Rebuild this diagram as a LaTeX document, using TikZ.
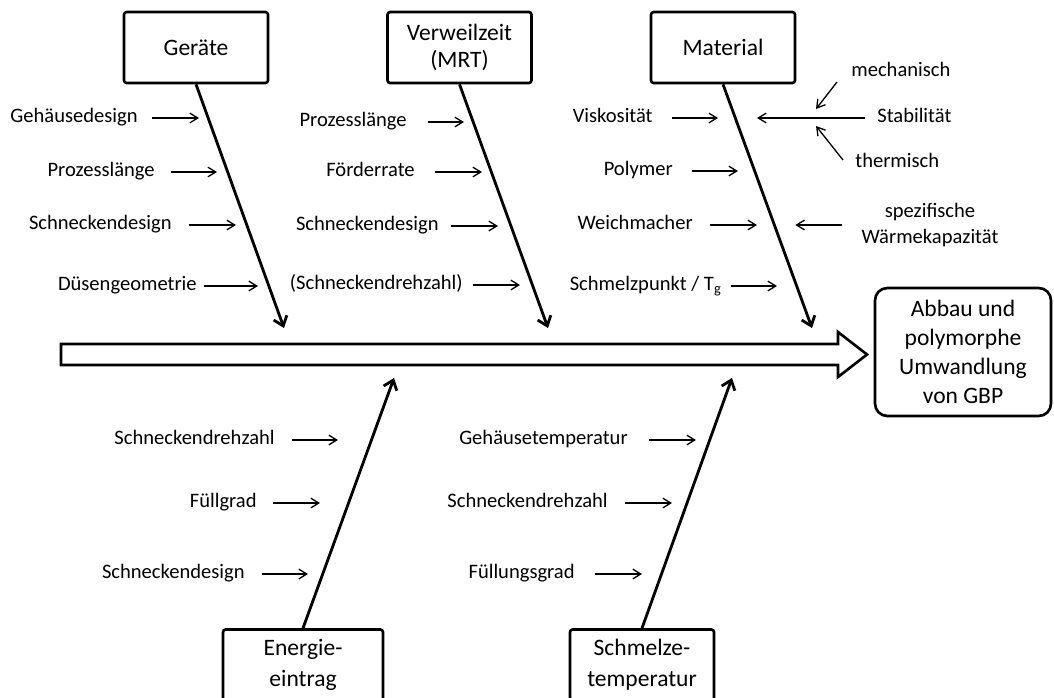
\documentclass[tikz,border=0pt]{standalone}
\usepackage{fontspec}
\setmainfont{Carlito}
\usetikzlibrary{arrows.meta}

\begin{document}
\begin{tikzpicture}[
        x=0.02cm, y=-0.02cm,
        box/.style={draw, line width=1.5pt, rounded corners=1.5pt, minimum width=2.88cm, minimum height=1.42cm, align=center, font=\fontsize{13.4}{15.5}\selectfont},
        effect/.style={box, rounded corners=7pt, minimum width=3.52cm, minimum height=2.56cm, font=\fontsize{13.4}{16.4}\selectfont},
        note/.style={inner sep=0pt, align=center, font=\fontsize{11.7}{14.7}\selectfont},
        lbl/.style={inner sep=0pt, text height=0.7em, text depth=0.2em, font=\fontsize{11.7}{14.7}\selectfont},
        bone/.style={line width=1.6pt, -{Straight Barb[length=5pt, width=8pt]}},
        cause/.style={line width=0.75pt, -{Straight Barb[length=4.5pt, width=5.5pt]}}
    ]

    \clip (0,0) rectangle (1054,697);

    % Categories
    \node[box] (geraete) at (196,47.5) {Geräte};
    \node[box] (mrt) at (459.5,47.5) {Verweilzeit\\(MRT)};
    \node[box] (material) at (723,47.5) {Material};
    \node[box, minimum width=3.2cm, font=\fontsize{13.4}{17.5}\selectfont] (energie) at (303,665) {Energie-\\eintrag};
    \node[box, font=\fontsize{13.4}{17.5}\selectfont] (schmelze) at (642,665) {Schmelze-\\temperatur};

    % Effect
    \node[effect] (gbp) at (963,352) {Abbau und\\polymorphe\\Umwandlung\\von GBP};

    % Spine
    \coordinate (tail) at (61,354.5);
    \draw[line width=1.5pt] (tail) ++(0,-10.5) -- ++(777,0) -- ++(0,-12) -- ++(29,22.5)
        -- ++(-29,22.5) -- ++(0,-12) -- ++(-777,0) -- cycle;

    % Bones
    \coordinate (gtip) at (284,328);
    \coordinate (mtip) at (548,328);
    \coordinate (ttip) at (812,328);
    \coordinate (etip) at (394,378);
    \coordinate (stip) at (732,378);
    \draw[bone] (geraete.south) -- (gtip);
    \draw[bone] (mrt.south) -- (mtip);
    \draw[bone] (material.south) -- (ttip);
    \draw[bone] (energie.north) -- (etip);
    \draw[bone] (schmelze.north) -- (stip);

    % Geraete
    \node[lbl, anchor=east] (g1) at (138,118) {Gehäusedesign};
    \node[lbl, anchor=east] (g2) at (155,172) {Prozesslänge};
    \node[lbl, anchor=east] (g3) at (172,225) {Schneckendesign};
    \node[lbl, anchor=east] (g4) at (197,286) {Düsengeometrie};
    \draw[cause] (g1.east) ++(14,0) -- ++(47,0);
    \draw[cause] (g2.east) ++(16,0) -- ++(46,0);
    \draw[cause] (g3.east) ++(17,0) -- ++(47,0);
    \draw[cause] (g4.east) ++(7,0) -- ++(54,0);

    % Verweilzeit
    \node[lbl, anchor=east] (m1) at (407,122) {Prozesslänge};
    \node[lbl, anchor=east] (m2) at (415,172) {Förderrate};
    \node[lbl, anchor=east] (m3) at (439,226) {Schneckendesign};
    \node[lbl, anchor=east] (m4) at (463,285) {(Schneckendrehzahl)};
    \draw[cause] (m1.east) ++(21,0) -- ++(36,0);
    \draw[cause] (m2.east) ++(20,0) -- ++(47,0);
    \draw[cause] (m3.east) ++(12,0) -- ++(47,0);
    \draw[cause] (m4.east) ++(10,0) -- ++(47,0);

    % Material
    \node[lbl, anchor=east] (t1) at (653,118) {Viskosität};
    \node[lbl, anchor=east] (t2) at (673,171) {Polymer};
    \node[lbl, anchor=east] (t3) at (693,225) {Weichmacher};
    \node[lbl, anchor=east] (t4) at (722,286) {Schmelzpunkt / T\textsubscript{g}};
    \draw[cause] (t1.east) ++(19,0) -- ++(46,0);
    \draw[cause] (t2.east) ++(19,0) -- ++(46,0);
    \draw[cause] (t3.east) ++(17,0) -- ++(47,0);
    \draw[cause] (t4.east) ++(9,0) -- ++(46,0);

    \node[lbl, anchor=west] (stab) at (877,118) {Stabilität};
    \node[lbl, anchor=west] (mech) at (851,72) {mechanisch};
    \node[lbl, anchor=west] (therm) at (855,163) {thermisch};
    \node[note] (spez) at (930,225) {spezifische\\Wärmekapazität};
    \draw[cause] (stab.west) ++(-12,0) -- ++(-108,0);
    \draw[cause] (mech.west) ++(-14,10) -- ++(-21,27);
    \draw[cause] (therm.west) ++(-12,-3) -- ++(-27,-34);
    \draw[cause] (spez.west) ++(-19,0) -- ++(-47,0);

    % Energieeintrag
    \node[lbl, anchor=east] (e1) at (275,440) {Schneckendrehzahl};
    \node[lbl, anchor=east] (e2) at (257,503) {Füllgrad};
    \node[lbl, anchor=east] (e3) at (245,574) {Schneckendesign};
    \draw[cause] (e1.east) ++(17,0) -- ++(46,0);
    \draw[cause] (e2.east) ++(16,0) -- ++(47,0);
    \draw[cause] (e3.east) ++(17,0) -- ++(46,0);

    % Schmelzetemperatur
    \node[lbl, anchor=east] (s1) at (628,440) {Gehäusetemperatur};
    \node[lbl, anchor=east] (s2) at (608,503) {Schneckendrehzahl};
    \node[lbl, anchor=east] (s3) at (575,574) {Füllungsgrad};
    \draw[cause] (s1.east) ++(21,0) -- ++(47,0);
    \draw[cause] (s2.east) ++(17,0) -- ++(47,0);
    \draw[cause] (s3.east) ++(20,0) -- ++(47,0);

\end{tikzpicture}
\end{document}
